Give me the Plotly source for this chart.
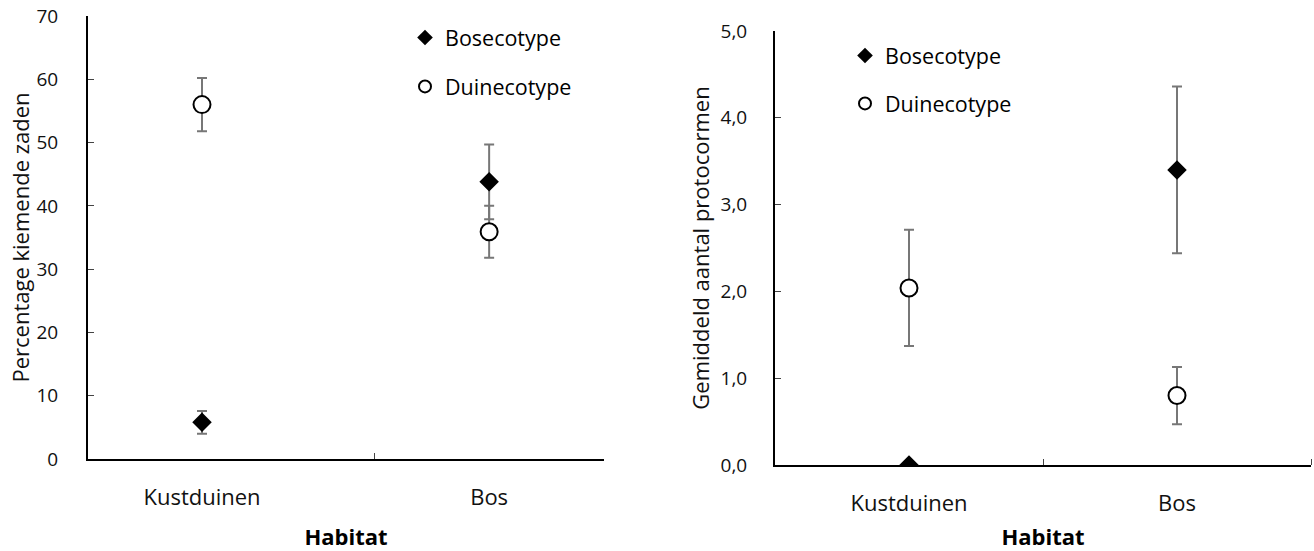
import plotly.graph_objects as go

habitats = ["Kustduinen", "Bos"]

# Left panel: percentage germinating seeds
pct_bos = [5.8, 43.8]
pct_bos_err = [1.8, 5.9]
pct_duin = [56.0, 35.9]
pct_duin_err = [4.2, 4.1]

# Right panel: mean number of protocorms
proto_bos = [0.0, 3.40]
proto_bos_err = [0.0, 0.96]
proto_duin = [2.04, 0.80]
proto_duin_err = [0.67, 0.33]

left_yticks = [0, 10, 20, 30, 40, 50, 60, 70]
right_yticks = [0, 1, 2, 3, 4, 5]

FONT = "Open Sans"
xpos = list(range(len(habitats)))

W, H = 1314, 551

def px_x(a, b):
    return [a / W, b / W]

def px_y(top, bottom):
    return [(H - bottom) / H, (H - top) / H]

fig = go.Figure()

err_style = dict(type="data", color="#777777", thickness=2, width=5)

def add_pair(xa, ya, bos, bos_err, duin, duin_err, legend, dsize, csize):
    fig.add_trace(go.Scatter(
        x=xpos, y=bos, mode="markers", name="Bosecotype",
        error_y=dict(array=bos_err, **err_style),
        marker=dict(symbol="diamond", size=dsize, color="black",
                    line=dict(width=0)),
        xaxis=xa, yaxis=ya, legend=legend, legendgroup=legend + "b",
    ))
    fig.add_trace(go.Scatter(
        x=xpos, y=duin, mode="markers", name="Duinecotype",
        error_y=dict(array=duin_err, **err_style),
        marker=dict(symbol="circle", size=csize, color="white",
                    line=dict(width=2, color="black")),
        xaxis=xa, yaxis=ya, legend=legend, legendgroup=legend + "d",
    ))

add_pair("x", "y", pct_bos, pct_bos_err, pct_duin, pct_duin_err, "legend", 15, 17)
add_pair("x2", "y2", proto_bos, proto_bos_err, proto_duin, proto_duin_err, "legend2", 15, 17)

axis_common = dict(
    showline=True, linecolor="black", linewidth=2, showgrid=False,
    zeroline=False, mirror=False, automargin=False,
)
cat_font = dict(family=FONT, size=22, color="#111")
num_font = dict(family=FONT, size=19, color="#111")
ytitle_font = dict(family=FONT, size=22, color="#111")
xtitle_font = dict(family=FONT, size=22, color="black")

fig.update_layout(
    width=W, height=H,
    margin=dict(l=0, r=0, t=0, b=0),
    paper_bgcolor="white", plot_bgcolor="white",
    separators=",.",
    font=dict(family=FONT, color="black"),
    xaxis=dict(
        domain=px_x(88, 604), range=[-0.397, 1.40],
        tickmode="array", tickvals=xpos, ticktext=habitats, ticks="",
        tickfont=cat_font, ticklabelstandoff=18,
        minor=dict(tickmode="array", tickvals=[0.6], ticks="inside",
                   ticklen=6, tickwidth=1, tickcolor="#444"),
        title=dict(text="<b>Habitat</b>", font=xtitle_font, standoff=19),
        anchor="y", **axis_common,
    ),
    yaxis=dict(
        domain=px_y(16, 459), range=[0, 70],
        tickmode="array", tickvals=left_yticks, ticks="inside",
        ticklen=6, tickwidth=1, tickcolor="#444",
        tickfont=num_font, ticklabelstandoff=24,
        title=dict(text="Percentage kiemende zaden", font=ytitle_font, standoff=1),
        anchor="x", **axis_common,
    ),
    xaxis2=dict(
        domain=px_x(775, 1311), range=[-0.5, 1.5],
        tickmode="array", tickvals=xpos, ticktext=habitats, ticks="",
        tickfont=cat_font, ticklabelstandoff=18,
        minor=dict(tickmode="array", tickvals=[0.5, 1.5], ticks="inside",
                   ticklen=6, tickwidth=1, tickcolor="#444"),
        title=dict(text="<b>Habitat</b>", font=xtitle_font, standoff=17),
        anchor="y2", **axis_common,
    ),
    yaxis2=dict(
        domain=px_y(31, 465), range=[0, 5],
        tickmode="array", tickvals=right_yticks, tickformat=".1f", ticks="inside",
        ticklen=6, tickwidth=1, tickcolor="#444",
        tickfont=num_font, ticklabelstandoff=22,
        title=dict(text="Gemiddeld aantal protocormen", font=ytitle_font, standoff=5),
        anchor="x2", **axis_common,
    ),
    legend=dict(
        x=405 / W, y=1 - 17 / H, xanchor="left", yanchor="top",
        font=dict(family=FONT, size=21.5, color="black"),
        bgcolor="rgba(0,0,0,0)", tracegroupgap=18, itemsizing="constant",
    ),
    legend2=dict(
        x=845 / W, y=1 - 35 / H, xanchor="left", yanchor="top",
        font=dict(family=FONT, size=21.5, color="black"),
        bgcolor="rgba(0,0,0,0)", tracegroupgap=17, itemsizing="constant",
    ),
    showlegend=True,
)

fig.write_html(
    "out.html",
    config={"displayModeBar": False},
    post_script="document.body.style.margin='0';document.body.style.padding='0';",
)
